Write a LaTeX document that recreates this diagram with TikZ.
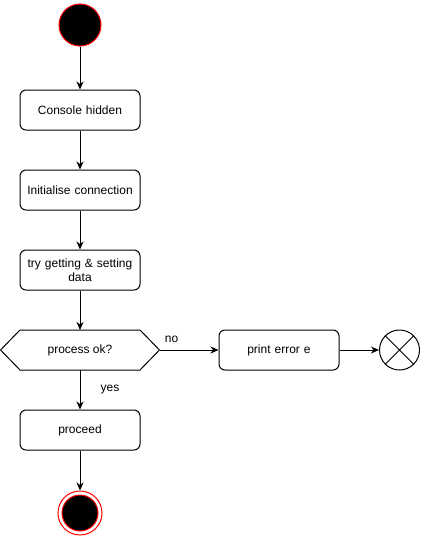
\documentclass[tikz,border=0pt]{standalone}
\usepackage{fontspec}
\setmainfont{Liberation Sans}
\usetikzlibrary{arrows.meta,shapes.misc,shapes.geometric}
\begin{document}
\begin{tikzpicture}[x=1pt,y=-1pt,
  every node/.style={font=\fontsize{12}{14}\selectfont},
  act/.style={draw,line width=1pt,rounded corners=6pt,minimum width=120pt,minimum height=40pt,align=center,inner sep=0pt,text width=112pt},
  conn/.style={line width=1pt,-{Stealth[length=8pt,width=7pt,inset=2.5pt]}},
  lbl/.style={inner sep=0pt}
]
\useasboundingbox (0,0) rectangle (421,536);
\node[circle,draw=red,fill=black,line width=1pt,minimum size=42pt,inner sep=0pt] (start) at (80,25) {};
\node[act] (console) at (80,110) {Console hidden};
\node[act] (init) at (80,190) {Initialise connection};
\node[act] (try) at (80,270) {try getting \& setting\\data};
\draw[line width=1pt] (0.5,350) -- (20,330) -- (140,330) -- (159.5,350) -- (140,370) -- (20,370) -- cycle;
\coordinate (decL) at (0.5,350);
\coordinate (decR) at (159.5,350);
\coordinate (decT) at (80,330);
\coordinate (decB) at (80,370);
\node[lbl] (dec) at (80,350) {process ok?};
\node[act] (print) at (279,350) {print error e};
\node[circle,draw,line width=1pt,minimum size=40pt,inner sep=0pt] (flowend) at (399.5,350) {};
\draw[line width=1pt] (flowend.45) -- (flowend.225) (flowend.135) -- (flowend.315);
\node[act] (proceed) at (80,430) {proceed};
\node[circle,draw=red,line width=1pt,minimum size=44pt,inner sep=0pt] (final) at (80,513) {};
\node[circle,draw=red,fill=black,line width=1pt,minimum size=36pt,inner sep=0pt] (finalin) at (80,513) {};
\draw[conn] (start) -- (console);
\draw[conn] (console) -- (init);
\draw[conn] (init) -- (try);
\draw[conn] (try) -- (decT);
\draw[conn] (decR) -- (print);
\draw[conn] (print) -- (flowend);
\draw[conn] (decB) -- (proceed);
\draw[conn] (proceed) -- (final);
\node[lbl] (no) at (171.5,339.5) {no};
\node[lbl] (yes) at (110,389.5) {yes};
\end{tikzpicture}
\end{document}
